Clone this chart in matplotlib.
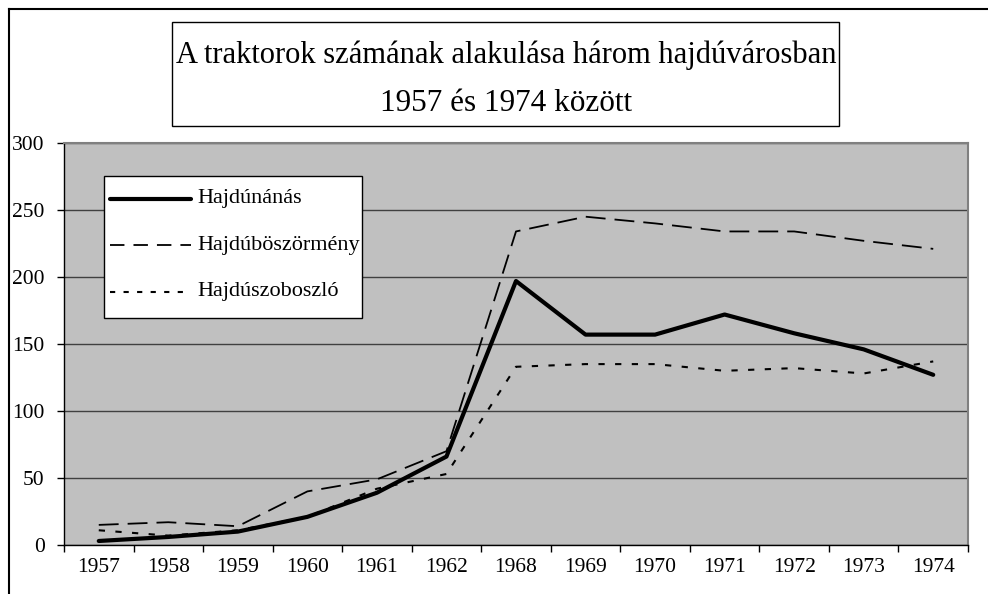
import matplotlib
matplotlib.use("Agg")
import matplotlib.pyplot as plt
from matplotlib.lines import Line2D
from matplotlib.patches import Rectangle

plt.rcParams["font.family"] = ["Liberation Serif", "DejaVu Serif"]

years = ["1957", "1958", "1959", "1960", "1961", "1962", "1968",
         "1969", "1970", "1971", "1972", "1973", "1974"]
hajdunanas = [3, 6, 10, 21, 39, 66, 197, 157, 157, 172, 158, 146, 127]
hajduboszormeny = [15, 17, 14, 40, 49, 70, 234, 245, 240, 234, 234, 227, 221]
hajduszoboszlo = [11, 7, 11, 21, 42, 53, 133, 135, 135, 130, 132, 128, 137]

names = ["Hajdúnánás", "Hajdúböszörmény", "Hajdúszoboszló"]
series = [hajdunanas, hajduboszormeny, hajduszoboszlo]
styles = [dict(lw=3.0, solid_capstyle="round"),
          dict(lw=1.3, dashes=(11, 5)),
          dict(lw=1.5, dashes=(3, 5))]

W, H = 988, 594
fig = plt.figure(figsize=(W / 100, H / 100), dpi=100)

def fx(px):
    return px / W

def fy(py):
    return 1 - py / H

ax = fig.add_axes([fx(64), fy(545), fx(968) - fx(64), fy(143) - fy(545)])
ax.set_facecolor("#c0c0c0")

x = list(range(len(years)))
for i, (name, vals, st) in enumerate(zip(names, series, styles)):
    ax.plot(x, vals, color="black", label=name, zorder=5 - i, **st)

ax.set_xlim(-0.5, len(years) - 0.5)
ax.set_ylim(0, 300)
ax.set_yticks(range(0, 301, 50))
ax.yaxis.grid(True, color="#404040", lw=1.0)
ax.set_axisbelow(True)

ax.set_xticks(x)
ax.set_xticklabels(years)
ax.set_xticks([i - 0.5 for i in range(len(years) + 1)], minor=True)
ax.tick_params(axis="x", which="major", length=0, pad=9.5, labelsize=15.5)
ax.tick_params(axis="x", which="minor", length=5, width=1, direction="out")
ax.tick_params(axis="y", length=5, width=1, direction="out", pad=9, labelsize=15.5)

for side in ["top", "right"]:
    ax.spines[side].set_color("#808080")
    ax.spines[side].set_linewidth(1.5)
for side in ["left", "bottom"]:
    ax.spines[side].set_color("black")
    ax.spines[side].set_linewidth(1.0)

# legend box (drawn by hand to match the Excel layout)
fig.add_artist(Rectangle((fx(104), fy(318)), fx(362) - fx(104), fy(176) - fy(318),
                         transform=fig.transFigure, facecolor="white",
                         edgecolor="black", lw=1.0, zorder=10))
leg_dashes = [None, (8, 5), (2.5, 4)]
for i, (name, st) in enumerate(zip(names, styles)):
    yy = fy(199 + i * 46.3)
    st2 = dict(st)
    if leg_dashes[i] is not None:
        st2["dashes"] = leg_dashes[i]
    fig.add_artist(Line2D([fx(110), fx(191)], [yy, yy], transform=fig.transFigure,
                          color="black", zorder=11, **st2))
    fig.text(fx(197), yy, name, ha="left", va="center", fontsize=16, zorder=11)

# title box
fig.add_artist(Rectangle((fx(172), fy(126)), fx(839) - fx(172), fy(22) - fy(126),
                         transform=fig.transFigure, facecolor="white",
                         edgecolor="black", lw=1.0))
fig.text(fx(506), fy(63), "A traktorok számának alakulása három hajdúvárosban",
         ha="center", va="baseline", fontsize=22)
fig.text(fx(506), fy(111), "1957 és 1974 között",
         ha="center", va="baseline", fontsize=22.5)

# outer chart frame
fig.add_artist(Line2D([fx(9), fx(9)], [fy(9), 0], transform=fig.transFigure,
                      color="black", lw=1.5))
fig.add_artist(Line2D([fx(9), 1], [fy(9), fy(9)], transform=fig.transFigure,
                      color="black", lw=1.5))

fig.savefig("out.png", dpi=100)
